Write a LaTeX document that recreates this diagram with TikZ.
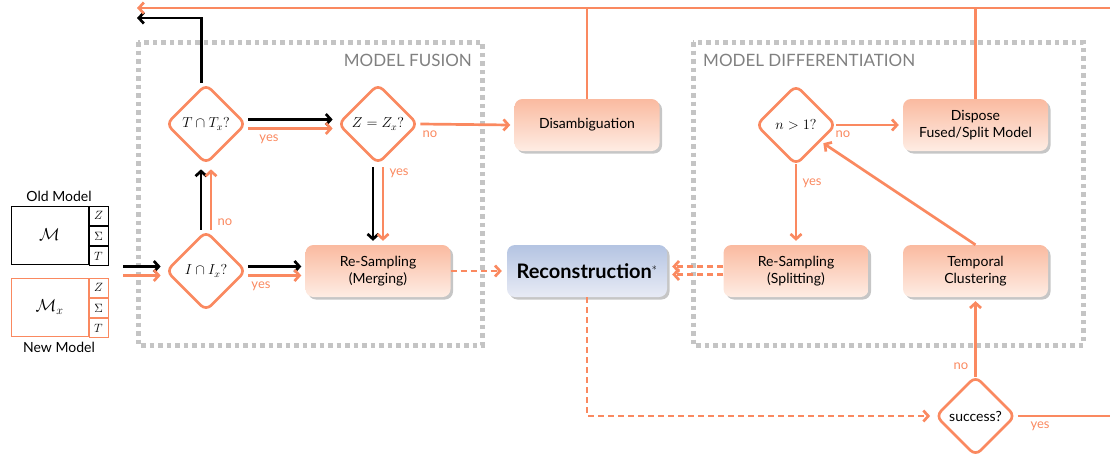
\documentclass[tikz,border=0pt]{standalone}
\usepackage{fontspec}
\setmainfont{Lato}
\usetikzlibrary{shapes.geometric,arrows.meta,shadows,calc}
\definecolor{org}{RGB}{250,137,96}
\definecolor{boxtop}{RGB}{250,186,160}
\definecolor{boxbot}{RGB}{254,237,228}
\definecolor{bluetop}{RGB}{180,196,226}
\definecolor{bluebot}{RGB}{232,235,245}
\definecolor{grayd}{RGB}{196,196,196}
\definecolor{graytxt}{RGB}{128,128,128}
\begin{document}
\begin{tikzpicture}[x=1pt,y=-1pt,
  ln/.style={line width=2.7pt},
  ol/.style={ln,draw=org},
  bl/.style={ln,draw=black},
  od/.style={ol,dash pattern=on 6pt off 4pt},
  tip/.style={-{Straight Barb[length=5pt,width=11pt]}},
  dia/.style={diamond,draw=org,line width=2.7pt,rounded corners=7pt,minimum width=80pt,minimum height=80pt,inner sep=0pt,fill=white,font=\fontsize{14.5}{16}\selectfont},
  proc/.style={rectangle,rounded corners=8pt,minimum width=145pt,minimum height=52pt,top color=boxtop,bottom color=boxbot,draw=none,align=center,
    drop shadow={shadow xshift=2.5pt,shadow yshift=-2.5pt,opacity=0.45},font=\fontsize{14}{17.5}\selectfont},
  recon/.style={proc,minimum width=160pt,top color=bluetop,bottom color=bluebot,font=\fontsize{20}{22}\selectfont\bfseries},
  grp/.style={draw=grayd,line width=5pt,dash pattern=on 4.5pt off 4pt},
  grplbl/.style={text=graytxt,font=\fontsize{17}{19}\selectfont,inner sep=0pt},
  lbl/.style={text=org,font=\fontsize{13}{15}\selectfont,inner sep=0pt},
  mtxt/.style={font=\fontsize{14}{16}\selectfont,inner sep=0pt},
  cell/.style={draw,line width=1pt,minimum width=19pt,minimum height=19.3pt,inner sep=0pt,font=\fontsize{12}{13}\selectfont},
  big/.style={draw,line width=1pt,minimum width=77pt,minimum height=58pt,inner sep=0pt,font=\fontsize{17}{19}\selectfont}
]
\useasboundingbox (0,0) rectangle (1110,453);

% group boxes
\draw[grp] (138,42) rectangle (482,345);
\draw[grp] (693,42) rectangle (1083,345);
\node[grplbl,anchor=east] (fusl) at (472,60) {MODEL FUSION};
\node[grplbl,anchor=west] (difl) at (703,60) {MODEL DIFFERENTIATION};

% old / new models
\node[big,draw=black] (om) at (49.5,235) {$\mathcal{M}$};
\node[cell,draw=black,anchor=north west] (oz) at (om.north east) {$Z$};
\node[cell,draw=black,anchor=north] (os) at (oz.south) {$\Sigma$};
\node[cell,draw=black,anchor=north] (ot) at (os.south) {$T$};
\node[mtxt] (oml) at (59,196) {Old Model};
\node[big,draw=org] (nm) at (49.5,307) {$\mathcal{M}_x$};
\node[cell,draw=org,anchor=north west] (nz) at (nm.north east) {$Z$};
\node[cell,draw=org,anchor=north] (ns) at (nz.south) {$\Sigma$};
\node[cell,draw=org,anchor=north] (nt) at (ns.south) {$T$};
\node[mtxt] (nml) at (59,347) {New Model};

% decision nodes
\node[dia] (T) at (206,124) {$T\cap T_x?$};
\node[dia] (Z) at (378,124) {$Z = Z_x?$};
\node[dia] (I) at (206,271) {$I\cap I_x?$};
\node[dia] (N) at (796,125) {$n > 1?$};
\node[dia,font=\fontsize{14}{16}\selectfont] (S) at (975.5,416) {success?};

% process nodes
\node[proc] (Dis) at (587,125) {Disambiguation};
\node[proc] (Mer) at (378,271) {Re-Sampling\\(Merging)};
\node[recon] (Rec) at (587,271) {Reconstruction$^{\scriptscriptstyle *}$};
\node[proc] (Spl) at (796,271) {Re-Sampling\\(Splitting)};
\node[proc] (Tem) at (975.5,271) {Temporal\\Clustering};
\node[proc] (Dsp) at (975.5,125) {Dispose\\Fused/Split Model};

% free ends
\coordinate (inB) at (123,266.5);
\coordinate (inO) at (123,275.5);
\coordinate (topR) at (1110,8);
\coordinate (topL) at (137,8);
\coordinate (blkL) at (137,18);
\coordinate (outR) at (1110,416);

% input arrows
\draw[bl,tip] (inB) -- ($(I.west)+(-4,-4.5)$);
\draw[ol,tip] (inO) -- ($(I.west)+(-4,4.5)$);

% I -> T (no)
\draw[bl,tip] ($(I.north)+(-5,0)$) -- ($(T.south)+(-5,4)$);
\draw[ol,tip] ($(I.north)+(5,0)$) -- ($(T.south)+(5,4)$);
\node[lbl] (l1) at (225,222) {no};

% I -> Merging (yes)
\draw[bl,tip] ($(I.east)+(1,-4.5)$) -- ($(Mer.west)+(-4,-4.5)$);
\draw[ol,tip] ($(I.east)+(1,4.5)$) -- ($(Mer.west)+(-4,4.5)$);
\node[lbl] (l2) at (261,286) {yes};

% T -> Z (yes)
\draw[bl,tip] ($(T.east)+(1,-4.5)$) -- ($(Z.west)+(-4,-4.5)$);
\draw[ol,tip] ($(T.east)+(1,4.5)$) -- ($(Z.west)+(-4,4.5)$);
\node[lbl] (l3) at (269,139) {yes};

% Z -> Merging (yes)
\draw[bl,tip] ($(Z.south)+(-5,2)$) -- ($(Mer.north)+(-5,-4)$);
\draw[ol,tip] ($(Z.south)+(5,2)$) -- ($(Mer.north)+(5,-4)$);
\node[lbl] (l4) at (399,173) {yes};

% Z -> Disambiguation (no)
\draw[ol,tip] ($(Z.east)+(1,0)$) -- ($(Dis.west)+(-4,0)$);
\node[lbl] (l5) at (430,134) {no};

% T upward exits
\draw[bl,tip] ($(T.north)+(-4.5,0)$) |- (blkL);
\draw[ol] ($(T.north)+(4.5,0)$) -- ($(T.north)+(4.5,0)$ |- topL);
\draw[ol,tip] (topR) -- (topL);
\draw[ol] (Dis.north) -- (Dis.north |- topL);
\draw[ol] (Dsp.north) -- (Dsp.north |- topL);

% Merging -> Reconstruction
\draw[od,tip] (Mer.east) -- ($(Rec.west)+(-5,0)$);
% Splitting -> Reconstruction
\draw[od,tip] ($(Spl.west)+(0,-4.5)$) -- ($(Rec.east)+(5,-4.5)$);
\draw[od,tip] ($(Spl.west)+(0,3.5)$) -- ($(Rec.east)+(5,3.5)$);

% N -> Splitting (yes), N -> Dispose (no)
\draw[ol,tip] ($(N.south)+(0,-2)$) -- ($(Spl.north)+(0,-4)$);
\node[lbl] (l6) at (812,183) {yes};
\draw[ol,tip] ($(N.east)+(-1,0)$) -- ($(Dsp.west)+(-4,0)$);
\node[lbl] (l7) at (843,134) {no};

% Temporal -> N
\draw[ol,tip,shorten >=3pt] (Tem.north) -- (N);

% Reconstruction -> success
\draw[od,tip] (Rec.south) |- ($(S.west)+(-4,0)$);
% success -> Temporal (no)
\draw[ol,tip] ($(S.north)+(0,2)$) -- ($(Tem.south)+(0,4)$);
\node[lbl] (l8) at (961,366) {no};
% success -> out (yes)
\draw[ol] ($(S.east)+(1,0)$) -- (outR);
\node[lbl] (l9) at (1040,426) {yes};
\end{tikzpicture}
\end{document}
